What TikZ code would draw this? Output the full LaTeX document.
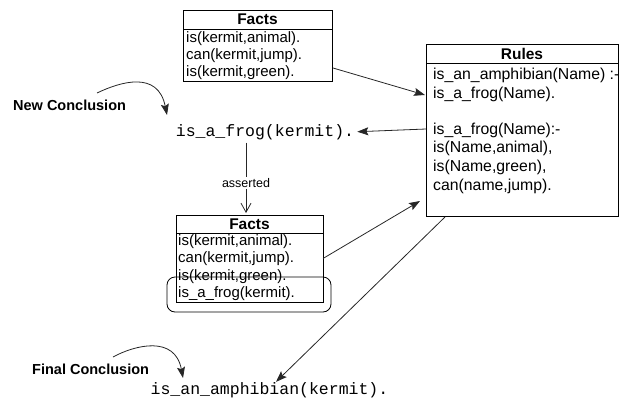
\documentclass[tikz,border=0pt]{standalone}
\usepackage{fontspec}
\setmainfont{Liberation Sans}
\setmonofont{Liberation Mono}
\usetikzlibrary{arrows.meta,calc}
\begin{document}
\begin{tikzpicture}[x=1pt,y=-1pt,
  box/.style={draw=black, line width=0.8pt, inner sep=0pt, outer sep=0pt},
  divider/.style={draw=black, line width=0.8pt},
  conn/.style={draw=black!85, line width=0.8pt, -{Stealth[length=11pt,width=8pt,inset=2pt]}},
  assertline/.style={draw=black!85, line width=0.8pt, -{Straight Barb[length=9pt,width=10pt]}},
  item/.style={anchor=west, inner sep=0pt, font=\fontsize{15}{18}\selectfont},
  ritem/.style={anchor=west, inner sep=0pt, font=\fontsize{15.8}{18}\selectfont},
  boxtitle/.style={inner sep=0pt, font=\bfseries\fontsize{15.5}{18}\selectfont},
  mono/.style={anchor=base, inner sep=3pt, font=\ttfamily\fontsize{16.5}{20}\selectfont},
  conclabel/.style={anchor=west, inner sep=0pt, font=\bfseries\fontsize{14.5}{17}\selectfont},
]
\useasboundingbox (0,0) rectangle (624,407);

% Top Facts box
\node[box, minimum width=149pt, minimum height=71pt] (tf) at (257.5,45.5) {};
\draw[divider] ($(tf.north west)+(0,19)$) -- ($(tf.north east)+(0,19)$);
\node[boxtitle] (tft) at (257.5,19.5) {Facts};
\node[item] (tf1) at (186,38.5) {is(kermit,animal).};
\node[item] (tf2) at (186,56) {can(kermit,jump).};
\node[item] (tf3) at (186,73) {is(kermit,green).};

% Rules box
\node[box, minimum width=192pt, minimum height=172pt] (rules) at (522,130) {};
\draw[divider] ($(rules.north west)+(0,19)$) -- ($(rules.north east)+(0,19)$);
\node[boxtitle] (rt) at (522,53.5) {Rules};
\node[ritem] (r1) at (433,75) {is\_an\_amphibian(Name) :-};
\node[ritem] (r2) at (433,94) {is\_a\_frog(Name).};
\node[ritem] (r3) at (433,130) {is\_a\_frog(Name):-};
\node[ritem] (r4) at (433,148) {is(Name,animal),};
\node[ritem] (r5) at (433,167) {is(Name,green),};
\node[ritem] (r6) at (433,186) {can(name,jump).};

% Bottom Facts box
\node[box, minimum width=147pt, minimum height=87pt] (bf) at (249.5,258.5) {};
\draw[divider] ($(bf.north west)+(0,18)$) -- ($(bf.north east)+(0,18)$);
\node[boxtitle] (bft) at (249.5,224) {Facts};
\node[item] (bf1) at (178,242) {is(kermit,animal).};
\node[item] (bf2) at (178,259) {can(kermit,jump).};
\node[item] (bf3) at (178,276.5) {is(kermit,green).};
\node[item] (bf4) at (178,294) {is\_a\_frog(kermit).};
\node[draw=black, line width=0.8pt, rounded corners=8pt, minimum width=164pt, minimum height=35pt, inner sep=0pt] (hl) at (249,294.5) {};

% Conclusions
\node[mono] (frog) at (265,136) {is\_a\_frog(kermit).};
\node[mono] (amph) at (269.5,394) {is\_an\_amphibian(kermit).};

% Labels
\node[conclabel] (newc) at (13,105) {New Conclusion};
\node[conclabel] (finc) at (32,369) {Final Conclusion};

% Curved arrows
\coordinate (nc1) at (97,93);
\coordinate (nc2) at (167,115);
\coordinate (fc1) at (113,357);
\coordinate (fc2) at (183,378);
\draw[conn] (nc1) .. controls (120,82) and (158,70) .. (nc2);
\draw[conn] (fc1) .. controls (135,345) and (175,335) .. (fc2);

% Connectors
\draw[conn] ($(tf.south east)+(1,-13)$) -- ($(rules.north west)+(-1,51)$);
\draw[conn] ($(rules.north west)+(0,85)$) -- (frog.east);
\draw[conn] (bf.east) -- ($(rules.south west)+(-6,-15)$);
\draw[conn] ($(rules.south west)+(19,1)$) -- ($(amph.north)+(6.5,3)$);

% asserted
\draw[assertline] ($(frog.south)+(-19,0)$) -- node[pos=0.57, fill=white, inner sep=1.5pt, font=\fontsize{12.5}{14}\selectfont] (asst) {asserted} ($(bf.north)+(-3.5,-2)$);
\end{tikzpicture}
\end{document}
